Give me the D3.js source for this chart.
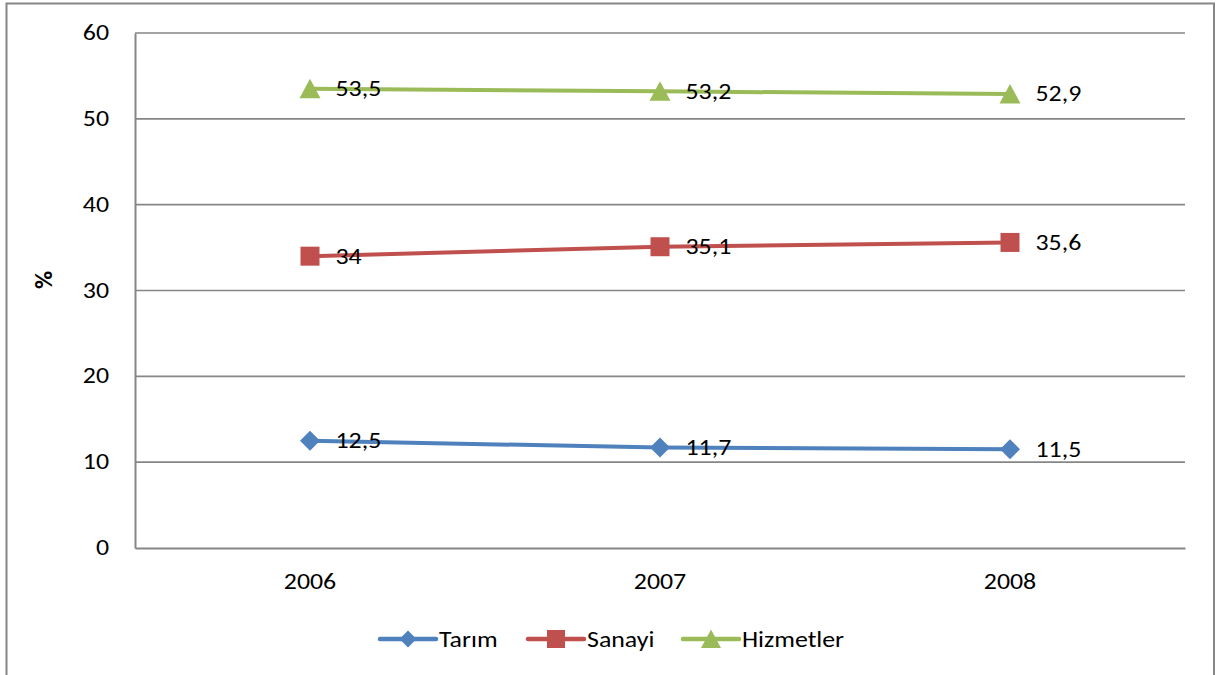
<!DOCTYPE html>
<html><head><meta charset="utf-8">
<script src="https://cdn.jsdelivr.net/npm/d3@7"></script>
<style>body{margin:0;background:#fff;} svg{display:block;font-family:Carlito,Calibri,Lato,sans-serif;}</style>
</head><body>
<svg id="c" width="1216" height="675"></svg>
<script>
const years = ["2006","2007","2008"];
const tarim = [12.5, 11.7, 11.5];
const sanayi = [34, 35.1, 35.6];
const hizmetler = [53.5, 53.2, 52.9];
const seriesNames = ["Tarım","Sanayi","Hizmetler"];
const yTicks = [0,10,20,30,40,50,60];

const series = [
  {name: seriesNames[0], values: tarim, color: "#4F81BD", shape: "diamond"},
  {name: seriesNames[1], values: sanayi, color: "#C0504D", shape: "square"},
  {name: seriesNames[2], values: hizmetler, color: "#9BBB59", shape: "triangle"}
];

const FS = 22.5, SX = 1.15;
const svg = d3.select("#c");
svg.append("rect").attr("x",6.5).attr("y",3.5).attr("width",1207.5).attr("height",700)
  .attr("fill","#fff").attr("stroke","#868686").attr("stroke-width",2);

const L=135, R=1185, T=33, B=548;
const x = d3.scaleBand().domain(years).range([L,R]);
const y = d3.scaleLinear().domain([0,60]).range([B,T]);
const cx = d => x(d) + x.bandwidth()/2;

function txt(px, py, str, anchor, opts={}) {
  const t = svg.append("text").attr("transform",`translate(${px},${py}) scale(${SX},1)`)
    .attr("text-anchor",anchor).attr("font-size",opts.size||FS).attr("fill","#000").text(str);
  if (opts.bold) t.attr("font-weight","bold");
  return t;
}

// gridlines
svg.append("g").selectAll("line").data(yTicks.filter(t=>t>0)).join("line")
  .attr("x1",L).attr("x2",R).attr("y1",d=>y(d)).attr("y2",d=>y(d))
  .attr("stroke","#868686").attr("stroke-width",1.6);

// y axis
const ya = svg.append("g").attr("transform",`translate(${L},0)`)
  .call(d3.axisLeft(y).tickValues(yTicks).tickSize(0).tickFormat(""));
ya.select(".domain").attr("stroke","#868686").attr("stroke-width",2);
yTicks.forEach(t => txt(L-26, y(t)+7, String(t), "end"));

// x axis
const xa = svg.append("g").attr("transform",`translate(0,${B})`)
  .call(d3.axisBottom(x).tickSize(0).tickFormat(""));
xa.select(".domain").attr("stroke","#868686").attr("stroke-width",2);
years.forEach(yr => txt(cx(yr), 589, yr, "middle"));

// y title
svg.append("text").attr("transform","translate(52,280) rotate(-90)")
  .attr("text-anchor","middle").attr("font-weight","bold").attr("font-size",25).text("%");

function marker(g, shape, color, s) {
  if (shape==="diamond") g.append("path").attr("d",`M0,${-s}L${s},0L0,${s}L${-s},0Z`).attr("fill",color);
  else if (shape==="square") g.append("rect").attr("x",-s).attr("y",-s).attr("width",2*s).attr("height",2*s).attr("fill",color);
  else g.append("path").attr("d",`M0,${-s*1.0}L${s*1.05},${s*0.95}L${-s*1.05},${s*0.95}Z`).attr("fill",color);
}
const sizes = {diamond:10, square:9.5, triangle:10};

const line = d3.line().x((d,i)=>cx(years[i])).y(d=>y(d));
series.forEach(s => {
  svg.append("path").attr("d", line(s.values)).attr("fill","none")
    .attr("stroke", s.color).attr("stroke-width",4).attr("stroke-linecap","round");
  s.values.forEach((v,i) => {
    const g = svg.append("g").attr("transform",`translate(${cx(years[i])},${y(v)})`);
    marker(g, s.shape, s.color, sizes[s.shape]);
  });
});
series.forEach(s => {
  s.values.forEach((v,i) => {
    txt(cx(years[i])+25.5, y(v)+7.5, String(v).replace(".",","), "start");
  });
});

// legend
const legX = [380, 528, 683];
const legS = {diamond:8.5, square:9, triangle:9.5};
series.forEach((s,i) => {
  const g = svg.append("g").attr("transform",`translate(${legX[i]},639)`);
  g.append("line").attr("x1",0).attr("x2",56).attr("y1",0).attr("y2",0)
    .attr("stroke",s.color).attr("stroke-width",4.5).attr("stroke-linecap","round");
  const m = g.append("g").attr("transform","translate(28,0)");
  marker(m, s.shape, s.color, legS[s.shape]);
  txt(legX[i]+59, 646.5, s.name, "start");
});
</script>
</body></html>
